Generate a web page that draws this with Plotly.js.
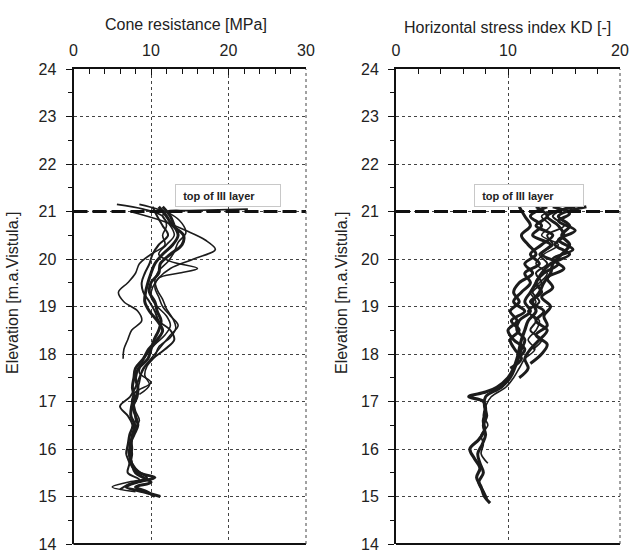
<!DOCTYPE html>
<html><head><meta charset="utf-8">
<script src="https://cdn.plot.ly/plotly-3.0.1.min.js"></script>
<style>html,body{margin:0;padding:0;background:#fff}#chart{width:638px;height:554px}</style>
</head><body><div id="chart"></div>
<script>
// ---- Left panel: cone resistance qc [MPa] vs elevation ----
const L1_y=[21.1,20.9,20.7,20.5,20.3,20.1,19.9,19.7,19.5,19.3,19.1,18.9,18.7,18.5,18.3,18.1,17.9,17.7,17.5,17.3,17.1,16.9,16.7,16.5,16.3,16.1,15.9,15.7,15.5,15.4,15.3,15.2,15.1,15.0];
const L1_x=[11.0,12.0,12.8,14.2,14.0,12.5,11.2,11.0,10.0,9.8,10.5,10.8,11.3,11.0,10.4,10.0,9.6,8.4,8.0,8.3,8.2,7.7,8.0,8.3,7.8,7.3,7.5,7.4,8.5,10.5,8.2,6.8,9.0,11.2];
const L2_y=[21.15,21.05,20.9,20.7,20.5,20.3,20.1,19.9,19.7,19.5,19.3,19.1,18.9,18.7,18.5,18.3,18.1,17.9];
const L2_x=[5.6,9.0,11.5,12.0,11.5,11.8,10.0,8.5,8.0,7.0,5.8,6.5,8.3,8.8,7.5,7.0,6.5,6.4];
const L3_y=[21.0,20.8,20.6,20.4,20.2,20.0,19.8,19.6,19.4,19.2,19.0,18.8,18.6,18.4,18.2,18.0,17.8,17.6,17.4,17.2,17.0,16.8,16.6,16.4,16.2,16.0,15.8,15.6,15.4,15.3,15.2,15.1];
const L3_x=[7.3,11.5,14.5,17.0,18.3,15.5,12.5,11.0,10.2,10.0,10.8,12.0,12.5,11.8,10.5,9.5,8.8,8.5,10.0,8.0,7.5,7.8,8.0,7.5,7.2,7.0,7.3,7.8,9.5,7.0,5.0,8.0];
const L4_y=[21.05,21.02,21.0,20.9,20.7,20.5,20.3,20.1,19.95,19.8,19.7,19.6,19.4,19.2,19.0,18.8,18.6,18.4,18.2,18.0,17.8,17.6,17.4,17.2,17.0,16.8,16.6,16.4,16.2,16.0,15.8,15.6,15.4];
const L4_x=[22.5,15.0,12.0,11.5,12.5,13.0,12.0,11.0,12.5,16.0,13.5,11.0,10.5,11.0,11.5,12.5,13.5,12.5,11.5,10.5,9.5,8.8,8.5,8.2,7.8,8.0,8.5,7.8,7.5,7.6,7.4,8.0,9.5];
const L5_y=[21.1,20.9,20.7,20.5,20.3,20.1,19.9,19.7,19.5,19.3,19.1,18.9,18.7,18.5,18.3,18.1,17.9,17.7,17.5,17.3,17.1,16.9,16.7,16.5,16.3,16.1,15.9,15.7,15.5,15.35,15.25,15.15];
const L5_x=[10.2,10.8,11.5,12.2,11.0,10.2,9.8,9.2,8.8,9.0,9.8,10.5,11.0,12.5,13.0,11.8,10.2,9.0,8.5,8.0,7.3,6.0,7.0,7.6,7.2,7.0,6.8,7.2,7.0,8.5,7.0,6.0];
const L6_y=[21.1,20.9,20.7,20.5,20.3,20.1,19.9,19.7,19.5,19.3,19.1,18.9,18.7,18.5,18.3,18.1,17.9,17.7,17.5,17.3,17.1,16.9,16.7,16.5,16.3,16.1,15.9,15.7,15.5,15.4,15.3,15.2,15.1,15.0];
const L6_x=[11.5,12.5,13.0,13.5,12.8,11.5,10.5,10.0,9.6,9.3,9.2,9.8,10.8,11.5,10.8,9.7,9.0,8.0,7.8,7.6,7.8,7.5,7.4,7.9,7.6,7.4,7.2,7.5,8.0,9.0,10.0,8.0,9.5,10.5];
const L7_y=[21.15,20.95,20.75,20.55,20.35,20.15,19.95,19.75,19.55,19.35,19.15,18.95,18.75,18.55,18.35,18.15,17.95,17.75,17.55,17.35,17.15];
const L7_x=[8.5,12.5,14.0,14.5,13.5,13.0,12.2,11.0,10.5,10.8,11.5,12.0,12.8,13.2,12.5,11.0,10.5,9.5,9.2,9.8,8.5];

// ---- Right panel: horizontal stress index KD [-] vs elevation ----
const R1_y=[21.1,20.9,20.7,20.5,20.3,20.1,19.9,19.7,19.5,19.3,19.1,18.9,18.7,18.5,18.3,18.1,17.9,17.7,17.5,17.3,17.2,17.1,17.0,16.8,16.6,16.4,16.2,16.0,15.8,15.6,15.4,15.2,15.0,14.86];
const R1_x=[17.0,14.5,15.5,14.8,15.5,14.8,14.0,13.8,13.2,12.8,12.2,12.5,11.8,11.5,11.2,11.0,10.8,10.5,10.0,9.0,8.0,6.5,7.8,8.0,7.8,7.9,7.4,6.6,7.0,7.5,7.2,7.6,7.9,8.4];
const R2_y=[21.1,20.9,20.7,20.5,20.3,20.1,19.9,19.7,19.5,19.3,19.1,18.9,18.7,18.5,18.3,18.1,17.9,17.7,17.5,17.3,17.1,16.9,16.7,16.5,16.3,16.1,15.9,15.7,15.5,15.3,15.1,14.95];
const R2_x=[16.0,13.5,14.5,15.0,14.2,15.5,13.8,13.0,12.5,12.0,11.5,12.0,11.0,10.8,11.5,11.2,10.9,10.6,10.2,9.4,8.0,7.9,8.1,7.8,8.0,7.7,7.3,7.5,7.8,7.4,7.8,8.1];
const R3_y=[21.05,20.9,20.7,20.5,20.3,20.1,19.9,19.7,19.5,19.3,19.1,18.9,18.7,18.5,18.3,18.1,17.9,17.7,17.5,17.3,17.1,16.9,16.7,16.5,16.3,16.1,15.9,15.7];
const R3_x=[15.0,13.0,13.8,13.0,14.5,13.2,12.5,13.5,12.8,12.0,12.5,11.8,12.8,12.5,11.8,12.4,11.5,11.0,10.5,9.8,8.5,8.0,7.8,8.2,7.6,7.8,7.6,8.2];
const R4_y=[21.1,20.9,20.7,20.5,20.3,20.1,19.9,19.7,19.5,19.3,19.1,18.9,18.7,18.5,18.3,18.1,17.9];
const R4_x=[11.0,11.5,12.0,11.2,11.8,12.5,11.5,12.2,11.0,10.5,11.0,10.2,10.8,10.0,10.5,11.5,10.8];
const R5_y=[21.1,20.95,20.8,20.6,20.4,20.2,20.0,19.8,19.6,19.4,19.2,19.0,18.8,18.6,18.4,18.2,18.0,17.8];
const R5_x=[14.0,15.5,14.5,16.0,14.5,15.8,14.0,15.0,13.5,14.0,13.0,13.8,13.2,13.5,12.5,13.5,13.0,12.0];
const R6_y=[21.1,20.9,20.7,20.5,20.3,20.1,19.9,19.7,19.5,19.3,19.1,18.9,18.7,18.5,18.3,18.1,17.9,17.7];
const R6_x=[12.5,13.5,12.5,14.0,13.0,12.0,12.8,11.5,12.0,11.2,10.5,11.5,10.3,11.0,10.2,10.6,11.2,10.2];
const R7_y=[21.1,20.9,20.7,20.5,20.3,20.1,19.9,19.7,19.5,19.3,19.1,18.9,18.7,18.5,18.3,18.1,17.9,17.7,17.5];
const R7_x=[13.5,12.0,13.0,12.2,13.8,13.0,14.5,13.2,12.5,13.0,12.0,13.2,12.5,13.5,12.8,12.0,11.5,11.8,11.0];
const R8_y=[21.1,20.9,20.7,20.5,20.3,20.1,19.9,19.7,19.5,19.3,19.1,18.9,18.7,18.5,18.3,18.1];
const R8_x=[15.5,14.0,15.0,13.5,14.0,12.8,13.5,12.5,13.0,12.2,12.8,11.8,12.5,12.0,13.0,12.2];

const topLayerElev=21;
const leftRange=[0,30], rightRange=[0,20], elevRange=[14,24];
const leftTitle='Cone resistance [MPa]';
const rightTitle='Horizontal stress index KD [-]';
const yTitle='Elevation [m.a.Vistula.]';
const layerLabel='top of III layer';

const leftSeries=[[L1_x,L1_y,3],[L2_x,L2_y,1.6],[L3_x,L3_y,1.6],[L4_x,L4_y,1.6],[L5_x,L5_y,2],[L6_x,L6_y,3],[L7_x,L7_y,1.6]];
const rightSeries=[[R1_x,R1_y,3.2],[R2_x,R2_y,3],[R3_x,R3_y,1.6],[R4_x,R4_y,3],[R5_x,R5_y,3],[R6_x,R6_y,3],[R7_x,R7_y,3],[R8_x,R8_y,2]];

const traces=[];
leftSeries.forEach(s=>traces.push({x:s[0],y:s[1],type:'scatter',mode:'lines',xaxis:'x',yaxis:'y',
  line:{color:'#1c1c1c',width:s[2],shape:'spline',smoothing:1},hoverinfo:'x+y',showlegend:false}));
rightSeries.forEach(s=>traces.push({x:s[0],y:s[1],type:'scatter',mode:'lines',xaxis:'x2',yaxis:'y2',
  line:{color:'#1c1c1c',width:s[2],shape:'spline',smoothing:1},hoverinfo:'x+y',showlegend:false}));
traces.push({x:leftRange,y:[topLayerElev,topLayerElev],xaxis:'x',yaxis:'y',mode:'lines',
  line:{color:'#111',width:3,dash:'14px,5px'},showlegend:false,hoverinfo:'skip'});
traces.push({x:rightRange,y:[topLayerElev,topLayerElev],xaxis:'x2',yaxis:'y2',mode:'lines',
  line:{color:'#111',width:3,dash:'14px,5px'},showlegend:false,hoverinfo:'skip'});

const font={family:'Liberation Sans, Arial, sans-serif',size:16,color:'#222'};
function xax(range,domain,anchor){return {domain:domain,range:range,side:'top',anchor:anchor,dtick:10,
  showline:true,linecolor:'#111',linewidth:2,ticks:'inside',ticklen:6,tickcolor:'#111',ticklabelstandoff:5,
  minor:{dtick:2,ticks:'inside',ticklen:5,tickcolor:'#111',showgrid:false},
  showgrid:true,gridcolor:'#444',griddash:'dot',gridwidth:1,zeroline:false,tickfont:font,fixedrange:true};}
function yax(domain,anchor){return {domain:domain,range:elevRange,anchor:anchor,dtick:1,
  showline:true,linecolor:'#111',linewidth:2,ticks:'outside',ticklen:6,tickcolor:'#111',ticklabelstandoff:6,
  minor:{dtick:0.5,ticks:'outside',ticklen:4,tickcolor:'#111',showgrid:false},
  showgrid:true,gridcolor:'#444',griddash:'dot',gridwidth:1,zeroline:false,tickfont:font,fixedrange:true};}

const yDom=[1-544/554,1-69/554];
const boxFont={family:'Liberation Sans, Arial, sans-serif',size:11,color:'#222'};
const layout={width:638,height:554,margin:{l:0,r:0,t:0,b:0},paper_bgcolor:'#fff',plot_bgcolor:'#fff',
  font:font,showlegend:false,
  xaxis:xax(leftRange,[73.5/638,306/638],'y'),
  yaxis:yax(yDom,'x'),
  xaxis2:xax(rightRange,[396/638,620/638],'y2'),
  yaxis2:yax(yDom,'x2'),
  shapes:[
    {type:'line',xref:'x domain',yref:'y domain',x0:0,x1:1,y0:0,y1:0,line:{color:'#111',width:2}},
    {type:'line',xref:'x2 domain',yref:'y2 domain',x0:0,x1:1,y0:0,y1:0,line:{color:'#111',width:2}},
    {type:'line',xref:'x domain',yref:'y domain',x0:1,x1:1,y0:0,y1:1,line:{color:'#444',width:1,dash:'dot'}},
    {type:'line',xref:'x2 domain',yref:'y2 domain',x0:1,x1:1,y0:0,y1:1,line:{color:'#444',width:1,dash:'dot'}}
  ],
  annotations:[
    {text:leftTitle,xref:'paper',yref:'paper',x:186/638,y:1-25/554,showarrow:false,font:font,xanchor:'center',yanchor:'middle'},
    {text:rightTitle,xref:'paper',yref:'paper',x:507/638,y:1-27/554,showarrow:false,font:font,xanchor:'center',yanchor:'middle'},
    {text:yTitle,xref:'paper',yref:'paper',x:12/638,y:1-293/554,showarrow:false,font:font,textangle:-90,xanchor:'center',yanchor:'middle'},
    {text:yTitle,xref:'paper',yref:'paper',x:341/638,y:1-293/554,showarrow:false,font:font,textangle:-90,xanchor:'center',yanchor:'middle'},
    {text:'&nbsp;&nbsp;<b>'+layerLabel+'</b>',xref:'x',yref:'y',x:19.95,y:21.33,showarrow:false,
      font:boxFont,bgcolor:'#fff',bordercolor:'#c8c8c8',borderwidth:1,
      width:102,height:19,align:'left',borderpad:1,xanchor:'center',yanchor:'middle'},
    {text:'&nbsp;&nbsp;<b>'+layerLabel+'</b>',xref:'x2',yref:'y2',x:11.9,y:21.33,showarrow:false,
      font:boxFont,bgcolor:'#fff',bordercolor:'#c8c8c8',borderwidth:1,
      width:106,height:19,align:'left',borderpad:1,xanchor:'center',yanchor:'middle'}
  ]
};
Plotly.newPlot('chart',traces,layout,{displayModeBar:false,staticPlot:true});
</script></body></html>
